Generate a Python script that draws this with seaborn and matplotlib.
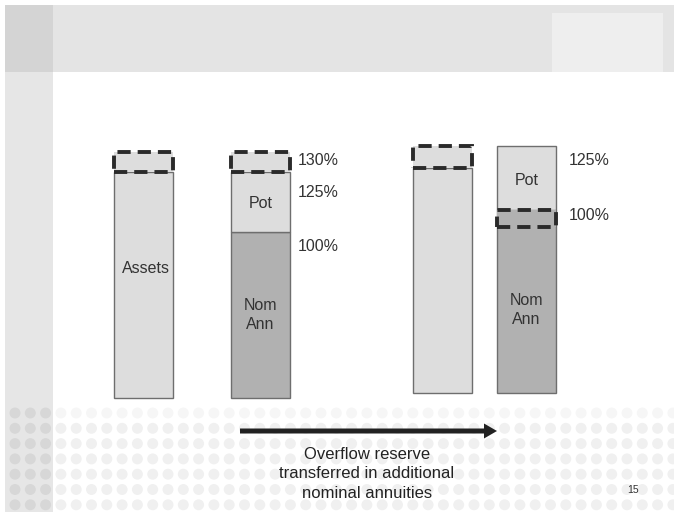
import numpy as np
import matplotlib
matplotlib.use("Agg")
import matplotlib.pyplot as plt
import seaborn as sns

sns.set_style("white")
plt.rcParams["font.family"] = ["Liberation Sans", "DejaVu Sans"]

# ---- data (diagram units, Nom Ann before = 100) ----
stages = ["before", "before", "after", "after"]
bar_names = ["Assets", "Liabilities", "Assets", "Liabilities"]
assets = [136, 0, 135.5, 0]
nom_ann = [0, 100, 0, 110]
pot = [0, 36, 0, 39]
reserve_lo = [136, 136, 135.5, 100]   # dashed overflow reserve box
reserve_hi = [148, 148, 148.8, 110]

levels_before = ["130%", "125%", "100%"]
levels_before_y = [143, 123.5, 91.5]
levels_after = ["125%", "100%"]
levels_after_y = [140, 107]

caption = "Overflow reserve\ntransferred in additional\nnominal annuities"

# ---- layout (pixels) ----
bar_x = [143.5, 260.5, 442, 526.5]
bar_w = 59
base = [0, 0, 3, 3]
px_per_unit = 1.66
baseline_px = 398

LIGHT = "#dddddd"
MID = "#b1b1b1"
EDGE = "#6e6e6e"
DASH = "#2a2a2a"

fig = plt.figure(figsize=(6.74, 5.12), dpi=100)

# background slide (pixel coordinates)
bg = fig.add_axes([0, 0, 1, 1])
bg.set_xlim(0, 674)
bg.set_ylim(512, 0)
bg.axis("off")
bg.add_patch(plt.Rectangle((5, 5), 669, 67, color="#e4e4e4", lw=0))
bg.add_patch(plt.Rectangle((5, 5), 48, 67, color="#d4d4d4", lw=0))
bg.add_patch(plt.Rectangle((552, 13), 111, 59, color="#eeeeee", lw=0))
bg.add_patch(plt.Rectangle((5, 72), 48, 440, color="#e6e6e6", lw=0))

gx, gy = np.meshgrid(15 + 15.3 * np.arange(44), 413 + 15.3 * np.arange(7))
gx, gy = gx.ravel(), gy.ravel()
dot_col = np.where(gx < 53, "#d7d7d7", "#f0f0f0")
dot_col = np.where((gy < 420) & (gx >= 53), "#f6f6f6", dot_col)
bg.scatter(gx, gy, s=62, c=list(dot_col), lw=0, zorder=1)

bg.arrow(240, 431, 257, 0, width=5, head_width=15, head_length=13,
         length_includes_head=True, color="#222222", lw=0, zorder=3)
bg.text(367, 474, caption, ha="center", va="center", fontsize=12,
        color="#222222", linespacing=1.38, zorder=3)
bg.text(633, 490, "15", ha="center", va="center", fontsize=7.5,
        color="#333333", zorder=3)

# bars (diagram units)
ax = fig.add_axes([0, 0, 1, 1])
ax.patch.set_alpha(0)


def draw(idx, heights, bottoms, **kw):
    xs = np.array([bar_x[i] for i in idx], dtype=float)
    nw = np.min(np.diff(xs)) if len(xs) > 1 else 1.0
    sns.barplot(x=xs, y=heights, native_scale=True, orient="x",
                width=bar_w / nw, bottom=bottoms, errorbar=None,
                saturation=1, ax=ax, **kw)


a_idx = [0, 2]
draw(a_idx, [assets[i] for i in a_idx], [base[i] for i in a_idx],
     color=LIGHT, edgecolor=EDGE, linewidth=1.0, zorder=2)

l_idx = [1, 3]
draw(l_idx, [nom_ann[i] for i in l_idx], [base[i] for i in l_idx],
     color=MID, edgecolor=EDGE, linewidth=1.0, zorder=2)
draw(l_idx, [pot[i] for i in l_idx], [base[i] + nom_ann[i] for i in l_idx],
     color=LIGHT, edgecolor=EDGE, linewidth=1.0, zorder=2)

# dashed overflow reserve boxes
r_idx = [0, 1, 2]
draw(r_idx, [reserve_hi[i] - reserve_lo[i] for i in r_idx],
     [base[i] + reserve_lo[i] for i in r_idx],
     color=LIGHT, edgecolor=DASH, linewidth=2.8,
     linestyle=(0, (3.4, 1.8)), zorder=3)
draw([3], [reserve_hi[3] - reserve_lo[3]], [base[3] + reserve_lo[3]],
     color=MID, edgecolor=DASH, linewidth=2.8,
     linestyle=(0, (3.4, 1.8)), zorder=3)

# labels inside bars
txt = dict(ha="center", va="center", fontsize=11.5, color="#333333", linespacing=1.3)
ax.text(bar_x[0] + 2, 78, "Assets", **txt)
ax.text(bar_x[1], 117, "Pot", **txt)
ax.text(bar_x[1], 50, "Nom\nAnn", **txt)
ax.text(bar_x[3], base[3] + 128, "Pot", **txt)
ax.text(bar_x[3], base[3] + 50, "Nom\nAnn", **txt)

for lab, y in zip(levels_before, levels_before_y):
    ax.text(298, y, lab, ha="left", va="center", fontsize=11.5, color="#333333")
for lab, y in zip(levels_after, levels_after_y):
    ax.text(569, base[3] + y, lab, ha="left", va="center", fontsize=11.5, color="#333333")

ax.set_xlim(0, 674)
ax.set_ylim((baseline_px - 512) / px_per_unit, baseline_px / px_per_unit)
ax.axis("off")

fig.savefig("out.png", dpi=100, facecolor="white")
